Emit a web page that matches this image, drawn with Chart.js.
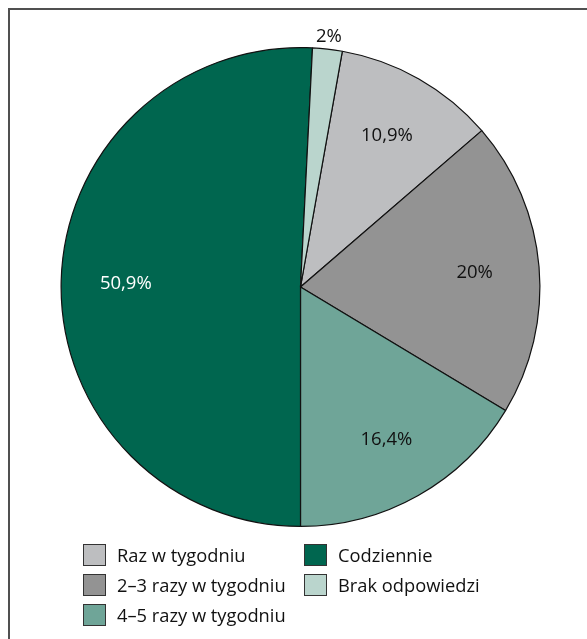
<!DOCTYPE html>
<html>
<head>
<meta charset="utf-8">
<script src="https://cdn.jsdelivr.net/npm/chart.js@4.4.0/dist/chart.umd.min.js"></script>
<style>
  html, body { margin: 0; padding: 0; background: #fff; overflow: hidden; }
  body { width: 587px; height: 639px; position: relative; font-family: "Open Sans", "Noto Sans", sans-serif; }
  #frame { position: absolute; left: 8px; top: 8px; width: 620px; height: 700px; border: 2px solid #505050; box-sizing: border-box; }
  #wrap { position: absolute; left: 0; top: 0; width: 587px; height: 639px; }
  #legend { position: absolute; left: 83px; top: 542px; width: 480px; }
  .item { position: absolute; display: flex; align-items: center; font-size: 18.3px; color: #111; white-space: nowrap; }
  .box { width: 23px; height: 22px; border: 1px solid #333; box-sizing: border-box; margin-right: 11px; }
</style>
</head>
<body>
<div id="frame"></div>
<div id="wrap"><canvas id="c" width="587" height="639"></canvas></div>
<div id="legend"></div>
<script>
const categories = ["Raz w tygodniu", "2–3 razy w tygodniu", "4–5 razy w tygodniu", "Codziennie", "Brak odpowiedzi"];
const values = [10.9, 20, 16.4, 50.9, 2];
const valueLabels = ["10,9%", "20%", "16,4%", "50,9%", "2%"];
const colors = ["#bdbec0", "#939393", "#6fa598", "#00664f", "#bad5cd"];
const labelColors = ["#111", "#111", "#111", "#fff", "#111"];
const legendColumns = [[0, 1, 2], [3, 4]];

const labelPlugin = {
  id: 'sliceLabels',
  afterDatasetsDraw(chart) {
    const ctx = chart.ctx;
    const meta = chart.getDatasetMeta(0);
    ctx.save();
    ctx.font = '18.5px "Open Sans", "Noto Sans", sans-serif';
    ctx.textAlign = 'center';
    ctx.textBaseline = 'middle';
    const total = values.reduce((a, b) => a + b, 0);
    meta.data.forEach((arc, i) => {
      const p = arc.getProps(['x', 'y', 'startAngle', 'endAngle', 'outerRadius'], true);
      const mid = (p.startAngle + p.endAngle) / 2;
      const share = values[i] / total;
      const f = share < 0.05 ? 1.055 : 0.73;
      const r = p.outerRadius * f;
      ctx.fillStyle = labelColors[i];
      ctx.fillText(valueLabels[i], p.x + Math.cos(mid) * r, p.y + Math.sin(mid) * r + 1);
    });
    ctx.restore();
  }
};

new Chart(document.getElementById('c'), {
  type: 'pie',
  data: {
    labels: categories,
    datasets: [{
      data: values,
      backgroundColor: colors,
      borderColor: '#111',
      borderWidth: 1.2
    }]
  },
  options: {
    responsive: false,
    animation: false,
    rotation: 10.06,
    layout: { padding: { left: 60, right: 46, top: 47, bottom: 112 } },
    plugins: { legend: { display: false }, tooltip: { enabled: false } }
  },
  plugins: [labelPlugin]
});

const legend = document.getElementById('legend');
const colX = [0, 221];
legendColumns.forEach((col, ci) => {
  col.forEach((idx, ri) => {
    const d = document.createElement('div');
    d.className = 'item';
    d.style.left = colX[ci] + 'px';
    d.style.top = (ri * 30) + 'px';
    const b = document.createElement('div');
    b.className = 'box';
    b.style.background = colors[idx];
    const t = document.createElement('span');
    t.textContent = categories[idx];
    d.appendChild(b); d.appendChild(t);
    legend.appendChild(d);
  });
});
</script>
</body>
</html>
